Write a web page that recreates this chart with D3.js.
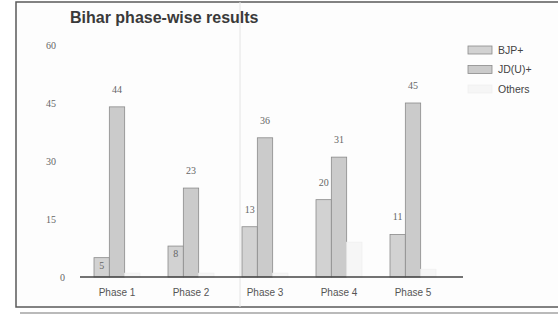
<!DOCTYPE html>
<html>
<head>
<meta charset="utf-8">
<script src="https://cdn.jsdelivr.net/npm/d3@7"></script>
<style>
  body { margin: 0; background: #fff; }
  svg { display: block; }
</style>
</head>
<body>
<svg id="chart" width="558" height="316"></svg>
<script>
const phases = ["Phase 1", "Phase 2", "Phase 3", "Phase 4", "Phase 5"];
const seriesNames = ["BJP+", "JD(U)+", "Others"];
const bjp = [5, 8, 13, 20, 11];
const jdu = [44, 23, 36, 31, 45];
const others = [1, 1, 1, 9, 2];
const yTicks = [0, 15, 30, 45, 60];

const colors = { "BJP+": "#d2d2d2", "JD(U)+": "#cbcbcb", "Others": "#f6f6f6" };
const strokes = { "BJP+": "#8a8a8a", "JD(U)+": "#8a8a8a", "Others": "#f0f0f0" };

const data = phases.map((p, i) => ({ phase: p, values: [bjp[i], jdu[i], others[i]] }));

const svg = d3.select("#chart");

// paper frame
svg.append("rect")
    .attr("x", 16).attr("y", 2)
    .attr("width", 560).attr("height", 305)
    .attr("fill", "#fdfdfd")
    .attr("stroke", "#5a5a5a")
    .attr("stroke-width", 1.5);
svg.append("line")
    .attr("x1", 20).attr("x2", 558).attr("y1", 313).attr("y2", 313)
    .attr("stroke", "#777").attr("stroke-width", 1.2);
// scan crease
svg.append("line")
    .attr("x1", 240).attr("x2", 240).attr("y1", 2).attr("y2", 307)
    .attr("stroke", "#e4e4e4").attr("stroke-width", 1);

svg.append("text")
    .attr("x", 70).attr("y", 23)
    .attr("font-family", "Liberation Sans, Arial, sans-serif")
    .attr("font-weight", "bold")
    .attr("font-size", 16)
    .attr("fill", "#3a3a3a")
    .text("Bihar phase-wise results");

const x0 = d3.scaleBand().domain(phases).range([80, 450]);
const x1 = d3.scaleBand().domain(seriesNames).range([14, 60]);
const y = d3.scaleLinear().domain([0, 60]).range([277, 45]);

// y tick labels
svg.append("g").selectAll("text")
    .data(yTicks)
    .enter().append("text")
    .attr("x", d => d === 0 ? 65 : 56)
    .attr("y", d => y(d))
    .attr("dy", "0.35em")
    .attr("text-anchor", "end")
    .attr("font-family", "Liberation Serif, serif")
    .attr("font-size", 10)
    .attr("fill", "#666")
    .text(d => d);

// bars
const groups = svg.append("g").selectAll("g")
    .data(data)
    .enter().append("g")
    .attr("transform", d => `translate(${x0(d.phase)},0)`);

groups.selectAll("rect")
    .data(d => d.values.map((v, i) => ({ key: seriesNames[i], value: v })))
    .enter().append("rect")
    .attr("x", d => x1(d.key))
    .attr("width", x1.bandwidth())
    .attr("y", d => y(d.value))
    .attr("height", d => y(0) - y(d.value))
    .attr("fill", d => colors[d.key])
    .attr("stroke", d => strokes[d.key])
    .attr("stroke-width", 0.8);

// value labels for BJP+ and JD(U)+
groups.selectAll("text")
    .data(d => d.values.slice(0, 2).map((v, i) => ({ key: seriesNames[i], value: v })))
    .enter().append("text")
    .attr("x", d => x1(d.key) + x1.bandwidth() / 2)
    .attr("y", d => d.value < 10 ? y(d.value) + 11 : y(d.value) - 14)
    .attr("text-anchor", "middle")
    .attr("font-family", "Liberation Serif, serif")
    .attr("font-size", 10)
    .attr("fill", "#666")
    .text(d => d.value);

// x axis
const xAxis = svg.append("g")
    .attr("transform", `translate(0,${y(0)})`)
    .call(d3.axisBottom(x0).tickSize(0).tickPadding(12));
xAxis.select(".domain").attr("d", "M80,0H463").attr("stroke", "#444").attr("stroke-width", 1.5);
xAxis.selectAll("text")
    .attr("font-family", "Liberation Sans, Arial, sans-serif")
    .attr("font-size", 10)
    .attr("fill", "#555");

// legend
const legend = svg.append("g").selectAll("g")
    .data(seriesNames)
    .enter().append("g")
    .attr("transform", (d, i) => `translate(468,${46 + i * 19.5})`);
legend.append("rect")
    .attr("width", 24).attr("height", 8)
    .attr("fill", d => colors[d])
    .attr("stroke", d => strokes[d])
    .attr("stroke-width", 0.8);
legend.append("text")
    .attr("x", 30).attr("y", 4)
    .attr("dy", "0.35em")
    .attr("font-family", "Liberation Sans, Arial, sans-serif")
    .attr("font-size", 10.5)
    .attr("fill", "#444")
    .text(d => d);
</script>
</body>
</html>
